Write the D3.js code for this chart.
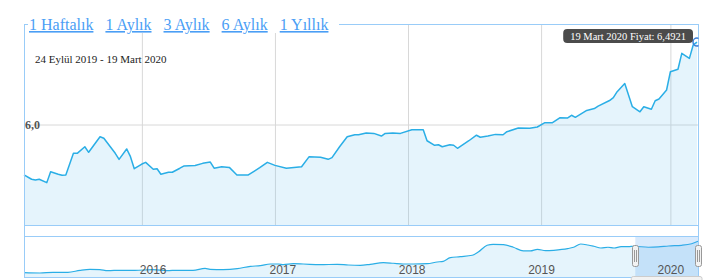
<!DOCTYPE html>
<html>
<head>
<meta charset="utf-8">
<script src="https://d3js.org/d3.v7.min.js"></script>
<style>
	body { margin: 0; background: #fff; }
	svg { display: block; }
	.btn { font-family: 'Liberation Serif', serif; font-size: 16px; fill: #4a9ef5; text-decoration: underline; }
	.nav-axis text { font-family: 'Liberation Sans', sans-serif; font-size: 12px; fill: #555; }
</style>
</head>
<body>
<script>
	// range buttons
	var buttons = ["1 Haftalık", "1 Aylık", "3 Aylık", "6 Aylık", "1 Yıllık"];
	var rangeText = "24 Eylül 2019 - 19 Mart 2020";

	// main series (last 6 months)
	var mainDates = ["2019-09-24", "2019-09-26", "2019-09-27", "2019-09-28", "2019-09-30", "2019-10-01", "2019-10-03", "2019-10-04", "2019-10-05", "2019-10-07",
		"2019-10-08", "2019-10-10", "2019-10-11", "2019-10-14", "2019-10-15", "2019-10-16", "2019-10-18", "2019-10-19", "2019-10-21", "2019-10-22",
		"2019-10-23", "2019-10-25", "2019-10-26", "2019-10-28", "2019-10-29", "2019-10-30", "2019-11-01", "2019-11-02", "2019-11-04", "2019-11-05",
		"2019-11-08", "2019-11-10", "2019-11-12", "2019-11-13", "2019-11-15", "2019-11-17", "2019-11-19", "2019-11-22", "2019-11-25", "2019-11-27",
		"2019-11-29", "2019-12-02", "2019-12-06", "2019-12-08", "2019-12-11", "2019-12-13", "2019-12-14", "2019-12-16", "2019-12-18", "2019-12-20",
		"2019-12-21", "2019-12-23", "2019-12-25", "2019-12-27", "2019-12-28", "2019-12-30", "2020-01-01", "2020-01-04", "2020-01-07", "2020-01-08",
		"2020-01-10", "2020-01-11", "2020-01-12", "2020-01-14", "2020-01-15", "2020-01-16", "2020-01-19", "2020-01-21", "2020-01-22", "2020-01-24",
		"2020-01-26", "2020-01-28", "2020-01-29", "2020-02-01", "2020-02-04", "2020-02-06", "2020-02-08", "2020-02-10", "2020-02-12", "2020-02-14",
		"2020-02-15", "2020-02-16", "2020-02-19", "2020-02-21", "2020-02-22", "2020-02-25", "2020-02-26", "2020-02-27", "2020-02-29", "2020-03-02",
		"2020-03-04", "2020-03-05", "2020-03-07", "2020-03-08", "2020-03-09", "2020-03-11", "2020-03-12", "2020-03-14", "2020-03-15", "2020-03-17",
		"2020-03-18", "2020-03-19"];
	var mainValues = [5.699, 5.673, 5.669, 5.673, 5.653, 5.718, 5.703, 5.697, 5.699, 5.828,
		5.828, 5.867, 5.834, 5.927, 5.918, 5.888, 5.828, 5.792, 5.854, 5.808,
		5.736, 5.764, 5.774, 5.733, 5.736, 5.703, 5.715, 5.715, 5.739, 5.752,
		5.755, 5.768, 5.776, 5.739, 5.748, 5.744, 5.699, 5.699, 5.742, 5.774,
		5.756, 5.739, 5.748, 5.808, 5.804, 5.792, 5.802, 5.867, 5.927, 5.939,
		5.939, 5.949, 5.947, 5.931, 5.947, 5.949, 5.947, 5.969, 5.969, 5.903,
		5.876, 5.879, 5.867, 5.879, 5.876, 5.858, 5.903, 5.936, 5.924, 5.931,
		5.941, 5.939, 5.957, 5.979, 5.977, 5.985, 6.011, 6.011, 6.041, 6.039,
		6.055, 6.043, 6.084, 6.095, 6.110, 6.143, 6.160, 6.196, 6.245, 6.106,
		6.076, 6.106, 6.091, 6.142, 6.152, 6.206, 6.315, 6.330, 6.425, 6.395,
		6.475, 6.4921];

	// vertical grid lines of the main plot
	var gridDates = ["2019-10-25", "2019-11-29", "2020-01-03", "2020-02-07", "2020-03-12"];
	var yTicks = [6.0];

	// navigator series (full history)
	var navDates = ["2015-01-03", "2015-02-17", "2015-03-26", "2015-05-07", "2015-06-10", "2015-07-08", "2015-08-05", "2015-08-28", "2015-10-01", "2015-11-12",
		"2016-01-02", "2016-02-10", "2016-03-12", "2016-04-24", "2016-05-28", "2016-06-11", "2016-07-18", "2016-08-27", "2016-10-03", "2016-10-31",
		"2016-11-28", "2016-12-21", "2017-01-04", "2017-02-01", "2017-03-01", "2017-04-18", "2017-06-05", "2017-07-06", "2017-08-09", "2017-09-06",
		"2017-10-13", "2017-11-10", "2017-12-08", "2018-01-05", "2018-02-14", "2018-03-14", "2018-03-31", "2018-04-20", "2018-05-18", "2018-06-21",
		"2018-07-08", "2018-08-02", "2018-08-19", "2018-09-17", "2018-10-15", "2018-11-12", "2018-12-02", "2018-12-22", "2019-01-14", "2019-02-06",
		"2019-03-17", "2019-04-03", "2019-04-23", "2019-05-13", "2019-05-30", "2019-06-19", "2019-07-09", "2019-07-26", "2019-08-15", "2019-09-04",
		"2019-09-21", "2019-10-31", "2019-11-28", "2019-12-27", "2020-02-02", "2020-03-01", "2020-03-19"];
	var navValues = [2.33, 2.29, 2.38, 2.38, 2.65, 2.78, 2.73, 2.60, 2.65, 2.65,
		2.73, 2.60, 2.65, 2.65, 2.91, 2.78, 2.73, 2.86, 3.18, 3.26,
		3.48, 3.48, 3.39, 3.52, 3.48, 3.39, 3.44, 3.35, 3.31, 3.44,
		3.66, 3.58, 3.48, 3.48, 3.52, 3.75, 3.84, 4.32, 4.45, 4.64,
		5.07, 5.96, 6.09, 6.04, 5.70, 5.21, 5.21, 5.43, 5.25, 5.30,
		5.51, 5.70, 6.13, 6.00, 5.83, 5.60, 5.70, 5.60, 5.78, 5.78,
		5.83, 5.70, 5.74, 5.87, 5.96, 6.17, 6.49];

	var width = 711, height = 280;
	var plot = { left: 24, right: 697, top: 24, bottom: 225 };
	var nav = { top: 236, bottom: 277 };
	var frameRight = 698;
	var lineColor = "#2aaee6";
	var areaColor = "rgba(124, 200, 240, 0.2)";
	var frameColor = "#99ccf8";
	var gridColor = "#d8d8d8";

	var parse = d3.timeParse("%Y-%m-%d");
	var comma = d3.formatLocale({ decimal: ",", thousands: ".", grouping: [3], currency: ["", ""] });
	var fmt1 = comma.format(".1f"), fmt4 = comma.format(".4f");

	var mainData = mainDates.map((d, i) => ({ date: parse(d), value: mainValues[i] }));
	var navData = navDates.map((d, i) => ({ date: parse(d), value: navValues[i] }));

	var x = d3.scaleTime()
		.domain(d3.extent(mainData, d => d.date))
		.range([plot.left, plot.right]);
	var y = d3.scaleLinear()
		.domain([5.4, 6.6])
		.range([plot.bottom, plot.top]);
	var navX = d3.scaleTime()
		.domain(d3.extent(navData, d => d.date))
		.range([plot.left, frameRight]);
	var navY = d3.scaleLinear()
		.domain([2.33, 6.49])
		.range([272.7, 241.3]);

	var svg = d3.select("body").append("svg")
		.attr("width", width)
		.attr("height", height);

	svg.append("clipPath").attr("id", "plotclip")
		.append("rect").attr("x", plot.left).attr("y", plot.top)
		.attr("width", frameRight - plot.left + 0.5).attr("height", plot.bottom - plot.top);

	// grid lines
	svg.append("g")
		.attr("transform", `translate(0,${plot.bottom})`)
		.call(d3.axisBottom(x).tickValues(gridDates.map(parse)).tickSize(-(plot.bottom - plot.top)).tickFormat(""))
		.call(g => g.select(".domain").remove())
		.call(g => g.selectAll("line").attr("stroke", gridColor));
	svg.append("g")
		.attr("transform", `translate(${plot.left},0)`)
		.call(d3.axisRight(y).tickValues(yTicks).tickSize(frameRight - plot.left).tickFormat(""))
		.call(g => g.select(".domain").remove())
		.call(g => g.selectAll("line").attr("stroke", gridColor));

	// main area + line
	var area = d3.area().x(d => x(d.date)).y0(plot.bottom).y1(d => y(d.value));
	var line = d3.line().x(d => x(d.date)).y(d => y(d.value));
	svg.append("path").attr("d", area(mainData)).attr("fill", areaColor);
	svg.append("path").attr("d", line(mainData))
		.attr("fill", "none").attr("stroke", lineColor).attr("stroke-width", 1.5)
		.attr("stroke-linejoin", "round");

	// y label
	svg.selectAll(".ylab").data(yTicks).enter().append("text")
		.attr("x", plot.left + 1)
		.attr("y", d => y(d) + 4.5)
		.attr("font-family", "'Liberation Serif', serif")
		.attr("font-weight", "bold")
		.attr("font-size", 12)
		.attr("fill", "#555")
		.text(d => fmt1(d));

	// navigator
	var navArea = d3.area().x(d => navX(d.date)).y0(nav.bottom).y1(d => navY(d.value)).curve(d3.curveMonotoneX);
	var navLine = d3.line().x(d => navX(d.date)).y(d => navY(d.value)).curve(d3.curveMonotoneX);
	svg.append("path").attr("d", navArea(navData)).attr("fill", areaColor);
	svg.append("path").attr("d", navLine(navData))
		.attr("fill", "none").attr("stroke", lineColor).attr("stroke-width", 1.2);

	// selected range mask
	var selStart = navX(mainData[0].date), selEnd = navX(mainData[mainData.length - 1].date);
	svg.append("rect")
		.attr("x", selStart).attr("y", nav.top)
		.attr("width", selEnd - selStart).attr("height", nav.bottom - nav.top)
		.attr("fill", "rgba(80, 160, 240, 0.22)");

	// year labels
	svg.append("g")
		.attr("class", "nav-axis")
		.attr("transform", "translate(0,262)")
		.call(d3.axisBottom(navX).ticks(d3.timeYear.every(1)).tickFormat(d3.timeFormat("%Y")).tickSize(0))
		.call(g => g.select(".domain").remove());

	// frame
	svg.append("rect")
		.attr("x", plot.left + 0.5).attr("y", plot.top + 0.5)
		.attr("width", frameRight - plot.left).attr("height", nav.bottom - plot.top)
		.attr("fill", "none").attr("stroke", frameColor);
	[plot.bottom, nav.top].forEach(v => {
		svg.append("line")
			.attr("x1", plot.left).attr("x2", frameRight + 0.5)
			.attr("y1", v + 0.5).attr("y2", v + 0.5)
			.attr("stroke", frameColor);
	});

	// scrollbar stub below navigator
	svg.append("rect")
		.attr("x", selStart - 4).attr("y", 276.5)
		.attr("width", selEnd - selStart + 8).attr("height", 10)
		.attr("rx", 2)
		.attr("fill", "#f2f2f2").attr("stroke", "#ccc");

	// navigator handles
	[selStart, selEnd].forEach(h => {
		var g = svg.append("g").attr("transform", `translate(${Math.round(h) - 3},245)`);
		g.append("rect").attr("x", 0.5).attr("y", 0.5).attr("width", 6).attr("height", 21)
			.attr("rx", 2).attr("fill", "#f2f2f2").attr("stroke", "#999");
		g.append("line").attr("x1", 2.5).attr("x2", 2.5).attr("y1", 5).attr("y2", 17).attr("stroke", "#999");
		g.append("line").attr("x1", 4.5).attr("x2", 4.5).attr("y1", 5).attr("y2", 17).attr("stroke", "#999");
	});

	// buttons on top of the frame
	svg.append("rect")
		.attr("x", 28).attr("y", 12).attr("width", 311).attr("height", 21)
		.attr("fill", "#fff");
	var bx = 29;
	buttons.forEach(b => {
		var t = svg.append("text").attr("class", "btn").attr("x", bx).attr("y", 30).text(b);
		bx += t.node().getComputedTextLength() + 12;
	});

	// date range text
	svg.append("text")
		.attr("x", 35).attr("y", 63)
		.attr("font-family", "'Liberation Serif', serif")
		.attr("font-size", 11)
		.attr("fill", "#222")
		.text(rangeText);

	// last point + tooltip
	var last = mainData[mainData.length - 1];
	var px = x(last.date), py = y(last.value);
	svg.append("circle")
		.attr("clip-path", "url(#plotclip)")
		.attr("cx", px).attr("cy", py).attr("r", 4)
		.attr("fill", "none").attr("stroke", "#3c7fd8").attr("stroke-width", 1.5);

	var monthsTr = ["Ocak", "Şubat", "Mart", "Nisan", "Mayıs", "Haziran", "Temmuz", "Ağustos", "Eylül", "Ekim", "Kasım", "Aralık"];
	var tipText = last.date.getDate() + " " + monthsTr[last.date.getMonth()] + " " + last.date.getFullYear() + " Fiyat: " + fmt4(last.value);
	var tip = svg.append("g");
	var tipRect = tip.append("rect").attr("rx", 4).attr("fill", "rgba(60, 60, 60, 0.92)");
	var tipLabel = tip.append("text")
		.attr("font-family", "'Liberation Serif', serif")
		.attr("font-size", 10.5)
		.attr("fill", "#fff")
		.attr("text-anchor", "middle")
		.text(tipText);
	var tw = tipLabel.node().getComputedTextLength() + 14;
	var tipRight = px - 4, tipTop = py - 13;
	tipRect.attr("x", tipRight - tw).attr("y", tipTop).attr("width", tw).attr("height", 14);
	tipLabel.attr("x", tipRight - tw / 2).attr("y", tipTop + 10.5);
</script>
</body>
</html>
